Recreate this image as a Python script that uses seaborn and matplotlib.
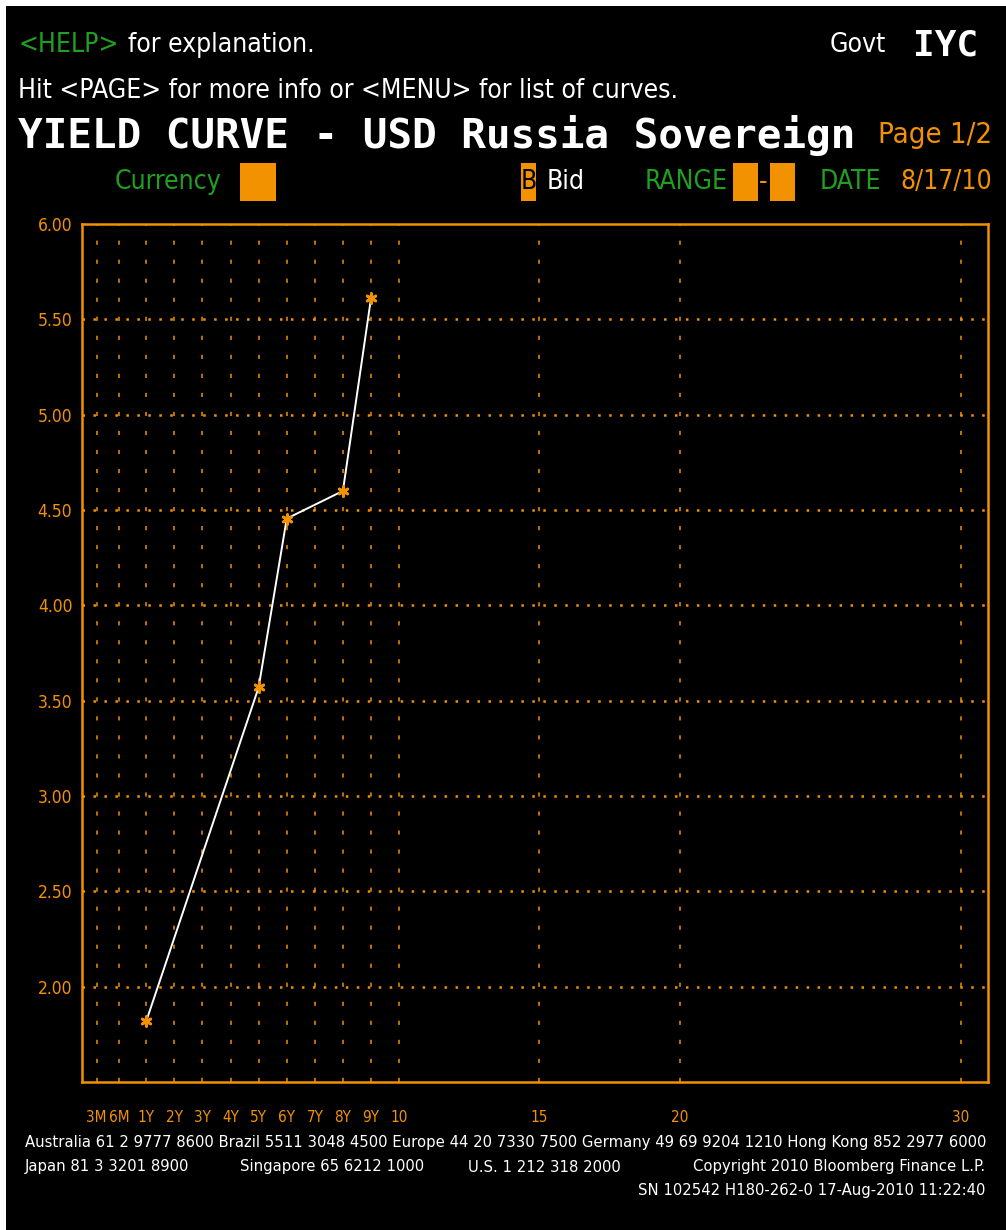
import matplotlib
matplotlib.use('Agg')
import numpy as np
import pandas as pd
import matplotlib.pyplot as plt
import seaborn as sns
from matplotlib.patches import Rectangle

# ================= data =================
tenor_labels = ['3M', '6M', '1Y', '2Y', '3Y', '4Y', '5Y', '6Y', '7Y', '8Y', '9Y', '10', '15', '20', '30']
tenor_pos = [-0.77, 0.03, 1, 2, 3, 4, 5, 6, 7, 8, 9, 10, 15, 20, 30]   # bloomberg axis units (years)
bid_tenor = [1, 5, 6, 8, 9]
bid_yield = [1.82, 3.57, 4.455, 4.60, 5.61]
yticks = [2.00, 2.50, 3.00, 3.50, 4.00, 4.50, 5.00, 5.50, 6.00]

footer_1 = 'Australia 61 2 9777 8600 Brazil 5511 3048 4500 Europe 44 20 7330 7500 Germany 49 69 9204 1210 Hong Kong 852 2977 6000'
footer_2 = ['Japan 81 3 3201 8900', 'Singapore 65 6212 1000', 'U.S. 1 212 318 2000']
footer_copy = 'Copyright 2010 Bloomberg Finance L.P.'
footer_sn = 'SN 102542 H180-262-0 17-Aug-2010 11:22:40'

df = pd.DataFrame({'tenor': bid_tenor, 'yield': bid_yield})

# ================= style =================
ORANGE = '#F39200'
GREEN = '#1FA01F'
WHITE = '#FFFFFF'

sns.set_style('dark')
plt.rcParams['font.family'] = ['DejaVu Sans']
plt.rcParams['font.stretch'] = 'condensed'
plt.rcParams['lines.scale_dashes'] = False

W, H = 1006, 1230
fig = plt.figure(figsize=(W / 100, H / 100), dpi=100, facecolor='white')
# black terminal screen (thin white edge top/left like the screenshot)
fig.patches.append(Rectangle((6 / W, 0), 1, 1 - 6 / H, transform=fig.transFigure,
                             facecolor='black', edgecolor='none', zorder=-10))


def px(x, y):
    return x / W, 1 - y / H


def txt(x, y, s, color=WHITE, size=19, ha='left', **kw):
    fig.text(*px(x, y), s, color=color, fontsize=size, ha=ha, va='center', **kw)


def box(x0, x1, y0=163, y1=201):
    fig.patches.append(Rectangle(px(x0, y1), (x1 - x0) / W, (y1 - y0) / H,
                                 transform=fig.transFigure, facecolor=ORANGE,
                                 edgecolor='none', zorder=1))


# ================= header =================
txt(119, 45, '<HELP>', GREEN, ha='right')
txt(128, 45, 'for explanation.')
txt(830, 45, 'Govt')
txt(978, 45, 'IYC', size=26, ha='right', family='DejaVu Sans Mono', weight='bold')
txt(18, 91, 'Hit <PAGE> for more info or <MENU> for list of curves.')
txt(18, 135, 'YIELD CURVE - USD Russia Sovereign', size=29.5, family='DejaVu Sans Mono', weight='bold')
txt(992, 135, 'Page 1/2', ORANGE, size=21, ha='right')

txt(115, 182, 'Currency', GREEN)
box(240, 276)
box(521, 536)
txt(528.5, 182, 'B', 'black', ha='center', zorder=2)
txt(547, 182, 'Bid')
txt(645, 182, 'RANGE', GREEN)
box(733, 758)
txt(763.5, 182, '-', ORANGE, ha='center')
box(770, 795)
txt(820, 182, 'DATE', GREEN)
txt(992, 182, '8/17/10', ORANGE, ha='right')

# ================= chart =================
ax = fig.add_axes([82 / W, 1 - 1082 / H, (988 - 82) / W, (1082 - 224) / H])
ax.set_facecolor('black')

for p in tenor_pos:
    ax.axvline(p, color=ORANGE, lw=1.1, linestyle=(0, (3.0, 10.7)), zorder=1)
for yv in yticks[:-1]:
    ax.axhline(yv, color=ORANGE, lw=1.8, linestyle=(0, (1.8, 6.1)), zorder=1)

sns.lineplot(data=df, x='tenor', y='yield', color=WHITE, lw=1.4, ax=ax, zorder=3)
sns.scatterplot(data=df, x='tenor', y='yield', color=ORANGE, marker=(6, 2, 0),
                s=50, linewidth=2.0, edgecolor=ORANGE, ax=ax, zorder=4)

ax.set_xlim(-1.29, 30.97)
ax.set_ylim(1.5, 6.0)
ax.set_xticks(tenor_pos)
ax.set_xticklabels(tenor_labels)
ax.set_yticks(yticks)
ax.set_yticklabels([f'{v:.2f}' for v in yticks])
ax.tick_params(axis='x', length=0, pad=20, labelsize=11, labelcolor=ORANGE)
ax.tick_params(axis='y', length=0, pad=7, labelsize=12.5, labelcolor=ORANGE)
ax.set_xlabel('')
ax.set_ylabel('')
ax.grid(False)
for s in ax.spines.values():
    s.set_visible(True)
    s.set_color(ORANGE)
    s.set_linewidth(1.8)

# ================= footer =================
fs = 11.85
txt(25, 1143, footer_1, size=fs)
txt(25, 1167, footer_2[0], size=fs)
txt(240, 1167, footer_2[1], size=fs)
txt(468, 1167, footer_2[2], size=fs)
txt(985, 1167, footer_copy, size=fs, ha='right')
txt(985, 1190, footer_sn, size=fs, ha='right')

fig.savefig('out.png', dpi=100, facecolor=fig.get_facecolor())
